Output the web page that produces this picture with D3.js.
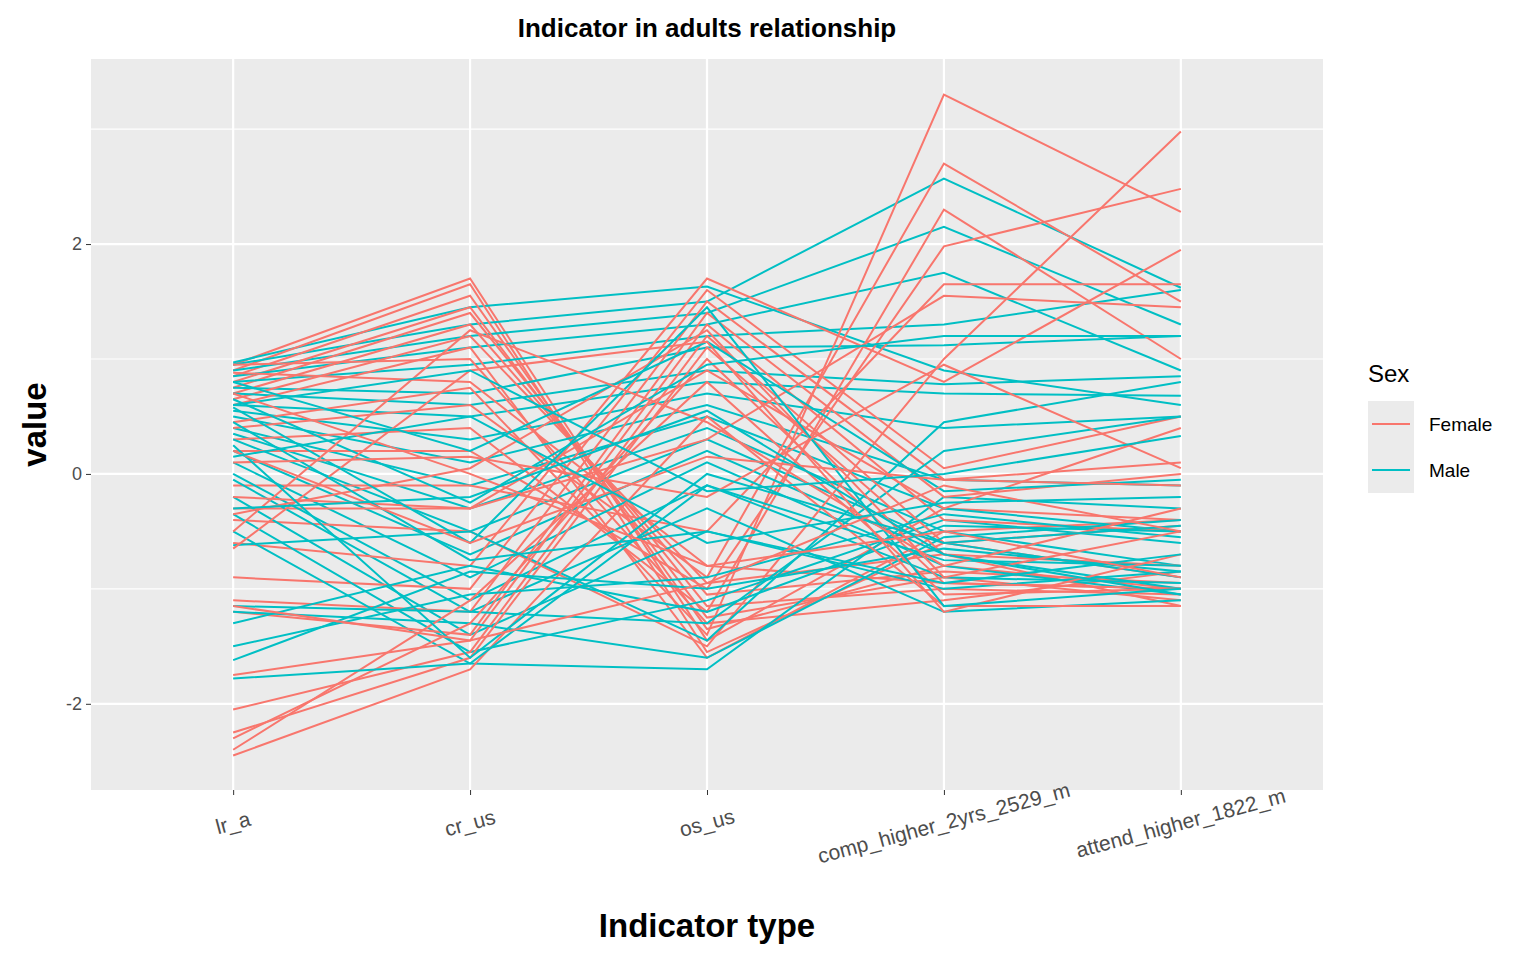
<!DOCTYPE html>
<html><head><meta charset="utf-8">
<script src="https://cdn.jsdelivr.net/npm/d3@7"></script>
<style>body{margin:0;background:#fff;font-family:"Liberation Sans",Arial,sans-serif}</style>
</head><body><div id="chart"></div>
<script>
const indicators = ["lr_a", "cr_us", "os_us", "comp_higher_2yrs_2529_m", "attend_higher_1822_m"];
const yTicks = [-2, 0, 2];
const yMinor = [-1, 1, 3];
const sexes = ["Female", "Male"];
const colors = ["#F8766D", "#00BFC4"];

const female = [
  [0.95,1.70,-1.45,-0.3,-0.4],[0.90,1.65,-1.55,-0.6,-0.9],[0.85,1.55,-1.35,-0.8,-1.0],
  [0.80,1.45,-1.25,-0.9,-1.1],[0.75,1.40,-1.15,-1.0,-1.05],[0.70,1.30,-1.05,-0.85,-0.95],
  [0.65,1.20,-0.95,-0.7,-1.15],[0.60,1.10,-1.6,-0.5,-0.4],[0.95,1.00,-1.3,-1.1,-0.85],
  [0.88,0.80,-0.8,-0.95,-1.0],[0.45,0.75,-1.4,3.3,2.28],[0.40,0.60,-0.9,2.7,1.5],
  [0.30,0.40,-1.2,2.3,1.0],[0.20,0.20,-1.0,1.98,2.48],[-0.10,-0.10,-0.5,1.65,1.65],
  [-0.30,-0.30,0.3,1.55,1.45],[-0.40,-0.50,-1.5,1.0,2.98],[-0.60,-0.80,1.7,0.8,1.95],
  [-0.90,-1.00,1.6,0.05,0.5],[-1.10,-1.20,1.5,-0.05,0.1],[-1.20,-1.40,1.4,-0.2,0.0],
  [-1.75,-1.45,1.3,-0.4,-0.5],[-2.05,-1.55,1.2,-0.6,-0.45],[-2.25,-1.60,1.1,-0.7,-0.8],
  [-2.30,-1.30,1.0,-0.95,-1.0],[-2.45,-1.70,0.5,-1.15,-1.15],[-2.40,-1.10,0.8,-1.05,-1.0],
  [-0.35,0.05,1.25,-0.9,-0.5],[-0.20,-0.30,0.9,-0.3,0.4],[-0.65,0.90,1.15,-1.2,-0.7],
  [-0.50,1.25,0.45,-0.8,-0.3],[0.10,0.15,-0.20,0.95,0.05],[0.20,-0.60,0.15,-0.05,-0.1],
  [-1.15,-1.45,-0.95,-0.1,-0.5],[0.70,0.0,-0.8,-0.5,-0.9]
];
const male = [
  [0.97,1.45,1.63,0.9,0.6],[0.95,1.30,1.5,2.57,1.62],[0.90,1.20,1.4,2.15,1.3],
  [0.85,1.10,1.3,1.75,0.9],[0.80,0.95,1.2,1.3,1.6],[0.75,0.70,1.1,1.12,1.2],
  [0.70,0.60,0.9,0.78,0.85],[0.60,0.50,0.8,0.7,0.68],[0.55,0.30,0.7,0.4,0.5],
  [0.50,0.10,0.6,-0.05,-0.1],[0.40,-0.10,0.5,-0.3,-0.5],[0.35,-0.30,0.4,-0.5,-0.8],
  [0.30,-0.50,0.3,-0.6,-0.9],[0.20,-0.70,0.2,-0.7,-1.0],[0.10,-0.90,0.1,-0.8,-1.05],
  [0.0,-1.10,-0.1,-0.9,-0.95],[-0.05,-1.20,-0.3,-1.2,-1.1],[-0.20,-1.40,-0.5,-1.0,-0.85],
  [-0.35,-1.55,-1.1,-0.4,-0.6],[-0.50,-1.65,-1.7,-0.2,-0.3],[-0.62,-0.50,-1.45,0.45,0.8],
  [-1.15,-1.2,-1.3,0.2,0.5],[-1.20,-1.3,-1.6,-0.55,-0.4],[-1.30,-0.8,-1.2,-0.45,-0.5],
  [-1.50,-1.05,-0.9,-0.35,-0.55],[-1.62,-0.85,-1.0,-0.65,-0.85],[-1.78,-1.65,-0.1,-0.75,-0.8],
  [0.65,-0.25,0.95,1.2,1.2],[0.80,0.2,1.15,-0.15,-0.05],[0.58,-0.6,1.45,-1.15,-1.0],
  [0.45,-0.75,-0.5,-0.95,-0.7],[0.25,-1.6,0.0,-0.6,-0.45],[0.6,0.9,-0.15,0.0,0.33],
  [0.15,0.5,-0.6,-0.25,-0.2],[-0.3,-0.2,0.55,-0.7,-1.05]
];

// interleave so neither sex sits fully on top
const rows = [];
female.forEach((v, i) => {
  rows.push({sex: "Female", values: v});
  if (male[i]) rows.push({sex: "Male", values: male[i]});
});

const W = 1536, H = 960;
const P = {l: 91, r: 1323, t: 59, b: 790};
const svg = d3.select("#chart").append("svg").attr("width", W).attr("height", H);

const x = d3.scalePoint().domain(indicators).range([P.l, P.r]).padding(0.6);
const y = d3.scaleLinear().domain([-2.75, 3.61]).range([P.b, P.t]);
const color = d3.scaleOrdinal().domain(sexes).range(colors);

svg.append("rect").attr("x", P.l).attr("y", P.t)
  .attr("width", P.r - P.l).attr("height", P.b - P.t).attr("fill", "#EBEBEB");

svg.append("g").selectAll("line").data(yMinor).join("line")
  .attr("x1", P.l).attr("x2", P.r).attr("y1", d => y(d)).attr("y2", d => y(d))
  .attr("stroke", "#fff").attr("stroke-width", 1.1);
svg.append("g").selectAll("line").data(yTicks).join("line")
  .attr("x1", P.l).attr("x2", P.r).attr("y1", d => y(d)).attr("y2", d => y(d))
  .attr("stroke", "#fff").attr("stroke-width", 2.2);
svg.append("g").selectAll("line").data(indicators).join("line")
  .attr("x1", d => x(d)).attr("x2", d => x(d)).attr("y1", P.t).attr("y2", P.b)
  .attr("stroke", "#fff").attr("stroke-width", 2.2);

const line = d3.line().x((d, i) => x(indicators[i])).y(d => y(d));
svg.append("g").selectAll("path").data(rows).join("path")
  .attr("d", d => line(d.values))
  .attr("fill", "none").attr("stroke", d => color(d.sex)).attr("stroke-width", 2);

// y axis
const yAxis = svg.append("g").attr("transform", `translate(${P.l},0)`)
  .call(d3.axisLeft(y).tickValues(yTicks).tickSize(5).tickPadding(4).tickFormat(d => String(d)));
yAxis.select(".domain").remove();
yAxis.selectAll("line").attr("stroke", "#333");
yAxis.selectAll("text").attr("fill", "#4D4D4D").style("font-size", "18px")
  .style("font-family", "Liberation Sans, Arial, sans-serif");

// x axis
const xAxis = svg.append("g").attr("transform", `translate(0,${P.b})`)
  .call(d3.axisBottom(x).tickSize(5).tickPadding(0));
xAxis.select(".domain").remove();
xAxis.selectAll("line").attr("stroke", "#333");
xAxis.selectAll("text").attr("fill", "#4D4D4D").style("font-size", "21px")
  .style("font-family", "Liberation Sans, Arial, sans-serif")
  .attr("text-anchor", "middle").attr("dy", 0)
  .attr("transform", "translate(0,35) rotate(-15)");

svg.append("text").attr("x", (P.l + P.r) / 2).attr("y", 937).attr("text-anchor", "middle")
  .style("font-size", "33px").style("font-weight", "bold").text("Indicator type");
svg.append("text").attr("transform", `translate(46,${(P.t + P.b) / 2}) rotate(-90)`)
  .attr("text-anchor", "middle").style("font-size", "33px").style("font-weight", "bold").text("value");
svg.append("text").attr("x", (P.l + P.r) / 2).attr("y", 37).attr("text-anchor", "middle")
  .style("font-size", "26px").style("font-weight", "bold").text("Indicator in adults relationship");

// legend
const lg = svg.append("g").attr("transform", "translate(1368,0)");
lg.append("text").attr("x", 0).attr("y", 382).style("font-size", "24px").text("Sex");
const items = lg.selectAll("g").data(sexes).join("g")
  .attr("transform", (d, i) => `translate(0,${401 + i * 46})`);
items.append("rect").attr("width", 46).attr("height", 46).attr("fill", "#EBEBEB");
items.append("line").attr("x1", 4).attr("x2", 42).attr("y1", 23).attr("y2", 23)
  .attr("stroke", d => color(d)).attr("stroke-width", 2);
items.append("text").attr("x", 61).attr("y", 30).style("font-size", "19px").text(d => d);
</script></body></html>
